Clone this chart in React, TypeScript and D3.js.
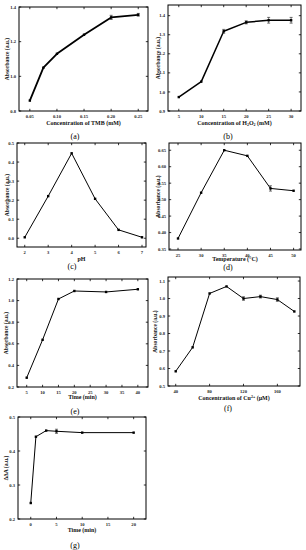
import React from "react";
import * as d3 from "d3";

// ---------- data ----------
const aX = [0.05, 0.075, 0.1, 0.15, 0.2, 0.25];
const aY = [0.86, 1.05, 1.13, 1.24, 1.34, 1.355];
const aErr = [0, 0, 0, 0, 0.012, 0.008];
const aXTicks = [0.05, 0.1, 0.15, 0.2, 0.25];
const aYTicks = [0.8, 1.0, 1.2, 1.4];

const bX = [5, 10, 15, 20, 25, 30];
const bY = [0.973, 1.054, 1.318, 1.365, 1.376, 1.376];
const bErr = [0, 0, 0.01, 0.008, 0.015, 0.015];
const bXTicks = [5, 10, 15, 20, 25, 30];
const bYTicks = [0.9, 1.0, 1.1, 1.2, 1.3, 1.4];

const cX = [2, 3, 4, 5, 6, 7];
const cY = [0.005, 0.221, 0.446, 0.207, 0.044, 0.005];
const cErr = [0, 0, 0, 0, 0, 0];
const cXTicks = [2, 3, 4, 5, 6, 7];
const cYTicks = [0.0, 0.1, 0.2, 0.3, 0.4, 0.5];

const dX = [25, 30, 35, 40, 45, 50];
const dY = [0.382, 0.521, 0.65, 0.633, 0.534, 0.527];
const dErr = [0, 0, 0, 0, 0.008, 0];
const dXTicks = [25, 30, 35, 40, 45, 50];
const dYTicks = [0.35, 0.4, 0.45, 0.5, 0.55, 0.6, 0.65];

const eX = [5, 10, 15, 20, 30, 40];
const eY = [0.286, 0.637, 1.015, 1.089, 1.08, 1.105];
const eErr = [0, 0, 0, 0, 0, 0];
const eXTicks = [5, 10, 15, 20, 25, 30, 35, 40];
const eYTicks = [0.2, 0.4, 0.6, 0.8, 1.0, 1.2];

const fX = [40, 60, 80, 100, 120, 140, 160, 180];
const fY = [0.584, 0.721, 1.029, 1.069, 1.0, 1.011, 0.994, 0.926];
const fErr = [0, 0, 0, 0, 0.01, 0.008, 0.01, 0];
const fXTicks = [40, 80, 120, 160];
const fYTicks = [0.5, 0.6, 0.7, 0.8, 0.9, 1.0, 1.1];

const gX = [0, 1, 3, 5, 10, 20];
const gY = [0.247, 0.442, 0.46, 0.458, 0.454, 0.454];
const gErr = [0, 0, 0, 0.006, 0, 0];
const gXTicks = [0, 5, 10, 15, 20];
const gYTicks = [0.2, 0.3, 0.4, 0.5];

const FONT = "'Liberation Serif', 'Times New Roman', serif";

type PanelProps = {
  box: [number, number, number, number]; // left, top, right, bottom
  xDomain: [number, number];
  yDomain: [number, number];
  xs: number[];
  ys: number[];
  errs: number[];
  xTicks: number[];
  yTicks: number[];
  xFmt: (v: number) => string;
  yFmt: (v: number) => string;
  xTitle: React.ReactNode;
  yTitle: React.ReactNode;
  xTitleY: number;
  yTitleX: number;
  label: string;
  labelPos: [number, number];
  lineWidth: number;
};

function Panel(p: PanelProps) {
  const [l, t, r, b] = p.box;
  const x = d3.scaleLinear().domain(p.xDomain).range([l, r]);
  const y = d3.scaleLinear().domain(p.yDomain).range([b, t]);
  const line = d3
    .line<number>()
    .x((_, i) => x(p.xs[i]))
    .y((v) => y(v));
  const tl = 2.2;
  return (
    <g>
      <rect x={l} y={t} width={r - l} height={b - t} fill="none" stroke="#000" strokeWidth={1} />
      {p.xTicks.map((v) => (
        <g key={"xt" + v}>
          <line x1={x(v)} x2={x(v)} y1={b} y2={b - tl} stroke="#000" strokeWidth={0.8} />
          <line x1={x(v)} x2={x(v)} y1={t} y2={t + tl} stroke="#000" strokeWidth={0.8} />
          <text x={x(v)} y={b + 6.5} fontSize={4.6} fontWeight="bold" textAnchor="middle" fontFamily={FONT} fill="#222">
            {p.xFmt(v)}
          </text>
        </g>
      ))}
      {p.yTicks.map((v) => (
        <g key={"yt" + v}>
          <line x1={l} x2={l + tl} y1={y(v)} y2={y(v)} stroke="#000" strokeWidth={0.8} />
          <line x1={r} x2={r - tl} y1={y(v)} y2={y(v)} stroke="#000" strokeWidth={0.8} />
          <text x={l - 3} y={y(v) + 1.6} fontSize={4.6} fontWeight="bold" textAnchor="end" fontFamily={FONT} fill="#222">
            {p.yFmt(v)}
          </text>
        </g>
      ))}
      <path d={line(p.ys) || ""} fill="none" stroke="#000" strokeWidth={p.lineWidth} strokeLinejoin="round" />
      {p.ys.map((v, i) =>
        p.errs[i] > 0 ? (
          <g key={"e" + i}>
            <line x1={x(p.xs[i])} x2={x(p.xs[i])} y1={y(v - p.errs[i])} y2={y(v + p.errs[i])} stroke="#333" strokeWidth={0.7} />
            <line x1={x(p.xs[i]) - 1.5} x2={x(p.xs[i]) + 1.5} y1={y(v - p.errs[i])} y2={y(v - p.errs[i])} stroke="#333" strokeWidth={0.7} />
            <line x1={x(p.xs[i]) - 1.5} x2={x(p.xs[i]) + 1.5} y1={y(v + p.errs[i])} y2={y(v + p.errs[i])} stroke="#333" strokeWidth={0.7} />
          </g>
        ) : null
      )}
      {p.ys.map((v, i) => (
        <rect key={"m" + i} x={x(p.xs[i]) - 1.2} y={y(v) - 1.2} width={2.4} height={2.4} fill="#000" />
      ))}
      <text x={(l + r) / 2} y={p.xTitleY} fontSize={6} fontWeight="bold" textAnchor="middle" fontFamily={FONT} fill="#111">
        {p.xTitle}
      </text>
      <text
        transform={`translate(${p.yTitleX},${(t + b) / 2}) rotate(-90)`}
        fontSize={5.6}
        fontWeight="bold"
        textAnchor="middle"
        fontFamily={FONT}
        fill="#111"
      >
        {p.yTitle}
      </text>
      <text x={p.labelPos[0]} y={p.labelPos[1]} fontSize={8} textAnchor="middle" fontFamily={FONT} fill="#000">
        {p.label}
      </text>
    </g>
  );
}

const f1 = (v: number) => v.toFixed(1);
const f2 = (v: number) => v.toFixed(2);
const f0 = (v: number) => v.toFixed(0);

export default function App() {
  return (
    <svg width={306} height={550} style={{ position: "absolute", left: 0, top: 0, background: "#fff" }}>
      <rect x={0} y={0} width={306} height={550} fill="#fff" />
      <Panel
        box={[19, 7, 148, 111]}
        xDomain={[0.03, 0.268]}
        yDomain={[0.8, 1.4]}
        xs={aX}
        ys={aY}
        errs={aErr}
        xTicks={aXTicks}
        yTicks={aYTicks}
        xFmt={f2}
        yFmt={f1}
        xTitle="Concentration of TMB (mM)"
        yTitle="Absorbance (a.u.)"
        xTitleY={125}
        yTitleX={9}
        label="(a)"
        labelPos={[75, 139]}
        lineWidth={1.8}
      />
      <Panel
        box={[168, 5, 301, 111]}
        xDomain={[2.6, 32.2]}
        yDomain={[0.9, 1.456]}
        xs={bX}
        ys={bY}
        errs={bErr}
        xTicks={bXTicks}
        yTicks={bYTicks}
        xFmt={f0}
        yFmt={f1}
        xTitle={
          <>
            <tspan>Concentration of H</tspan>
            <tspan dy={1.2} fontSize={4}>2</tspan>
            <tspan dy={-1.2}>O</tspan>
            <tspan dy={1.2} fontSize={4}>2</tspan>
            <tspan dy={-1.2}> (mM)</tspan>
          </>
        }
        yTitle="Absorbance (a.u.)"
        xTitleY={125}
        yTitleX={160}
        label="(b)"
        labelPos={[228, 139]}
        lineWidth={1.5}
      />
      <Panel
        box={[17, 143, 146, 247]}
        xDomain={[1.67, 7.17]}
        yDomain={[-0.046, 0.5]}
        xs={cX}
        ys={cY}
        errs={cErr}
        xTicks={cXTicks}
        yTicks={cYTicks}
        xFmt={f0}
        yFmt={f1}
        xTitle="pH"
        yTitle="Absorbance (a.u.)"
        xTitleY={261}
        yTitleX={9}
        label="(c)"
        labelPos={[72, 269]}
        lineWidth={1}
      />
      <Panel
        box={[169, 143, 301, 250]}
        xDomain={[23.05, 51.6]}
        yDomain={[0.347, 0.672]}
        xs={dX}
        ys={dY}
        errs={dErr}
        xTicks={dXTicks}
        yTicks={dYTicks}
        xFmt={f0}
        yFmt={f2}
        xTitle="Temperature (°C)"
        yTitle="Absorbance (a.u.)"
        xTitleY={261}
        yTitleX={160}
        label="(d)"
        labelPos={[228, 270]}
        lineWidth={1}
      />
      <Panel
        box={[17, 279, 148, 387]}
        xDomain={[1.94, 43.2]}
        yDomain={[0.2, 1.2]}
        xs={eX}
        ys={eY}
        errs={eErr}
        xTicks={eXTicks}
        yTicks={eYTicks}
        xFmt={f0}
        yFmt={f1}
        xTitle="Time (min)"
        yTitle="Absorbance (a.u.)"
        xTitleY={399}
        yTitleX={8}
        label="(e)"
        labelPos={[75, 414]}
        lineWidth={1}
      />
      <Panel
        box={[168, 277, 300, 386]}
        xDomain={[30.9, 186.7]}
        yDomain={[0.5, 1.123]}
        xs={fX}
        ys={fY}
        errs={fErr}
        xTicks={fXTicks}
        yTicks={fYTicks}
        xFmt={f0}
        yFmt={f1}
        xTitle={
          <>
            <tspan>Concentration of Cu</tspan>
            <tspan dy={-2} fontSize={4}>2+</tspan>
            <tspan dy={2}> (μM)</tspan>
          </>
        }
        yTitle="Absorbance (a.u.)"
        xTitleY={400}
        yTitleX={157}
        label="(f)"
        labelPos={[228, 411]}
        lineWidth={1}
      />
      <Panel
        box={[18, 417, 146, 519]}
        xDomain={[-2.48, 22.4]}
        yDomain={[0.2, 0.5]}
        xs={gX}
        ys={gY}
        errs={gErr}
        xTicks={gXTicks}
        yTicks={gYTicks}
        xFmt={f0}
        yFmt={f1}
        xTitle="Time (min)"
        yTitle="ΔΔA (a.u.)"
        xTitleY={532}
        yTitleX={8}
        label="(g)"
        labelPos={[75, 548]}
        lineWidth={1}
      />
    </svg>
  );
}
